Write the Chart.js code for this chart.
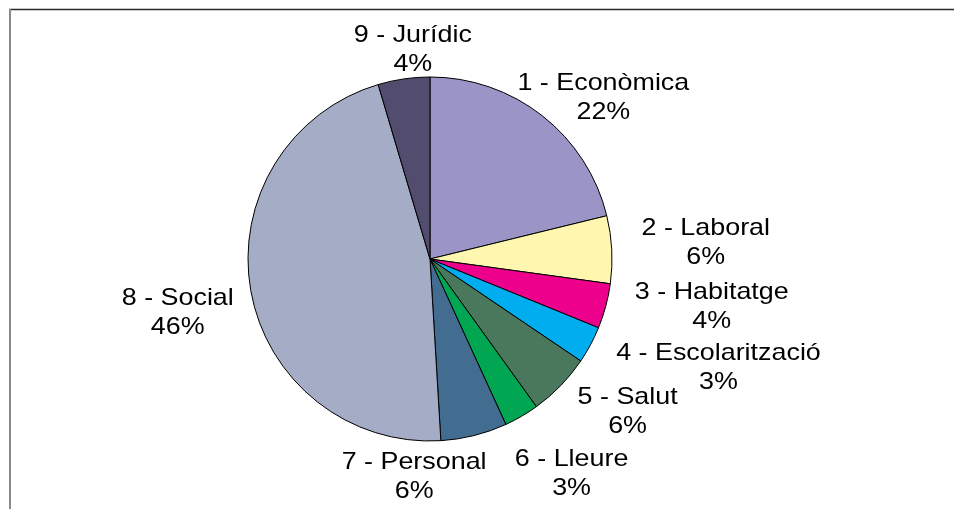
<!DOCTYPE html>
<html><head><meta charset="utf-8">
<script src="https://cdn.jsdelivr.net/npm/chart.js@4.4.0/dist/chart.umd.min.js"></script>
<style>html,body{margin:0;padding:0;background:#fff;}canvas{display:block}</style>
</head><body>
<canvas id="c" width="954" height="509"></canvas>
<script>
const categories = ['1 - Econòmica','2 - Laboral','3 - Habitatge','4 - Escolarització','5 - Salut','6 - Lleure','7 - Personal','8 - Social','9 - Jurídic'];
const shares = [21.2, 6.0, 4.0, 3.3, 5.6, 3.1, 5.9, 46.4, 4.6];
const percentLabels = [22, 6, 4, 3, 6, 3, 6, 46, 4];

const sliceColors = ['#9A94C7','#FFF7B0','#EC008C','#00AEEF','#4A785C','#00A651','#426C90','#A4ACC6','#524C6E'];
const labelNudge = [[61,-20],[94,-9],[106,-1],[128,21],[67,24],[50,56],[-60,39],[-73,20],[9,-31]];

const frame = {
  id: 'frame',
  beforeDraw(chart) {
    const ctx = chart.ctx;
    ctx.save();
    ctx.strokeStyle = '#2a2a2a'; ctx.lineWidth = 1.5;
    ctx.beginPath(); ctx.moveTo(9, 9.5); ctx.lineTo(954, 9.5); ctx.stroke();
    ctx.strokeStyle = '#8a8a8a'; ctx.lineWidth = 2;
    ctx.beginPath(); ctx.moveTo(10, 9); ctx.lineTo(10, 509); ctx.stroke();
    ctx.restore();
  }
};

const pieLabels = {
  id: 'pieLabels',
  afterDatasetsDraw(chart) {
    const ctx = chart.ctx;
    const meta = chart.getDatasetMeta(0);
    ctx.save();
    ctx.fillStyle = '#000';
    ctx.font = '24px "Liberation Sans", Arial, sans-serif';
    ctx.textAlign = 'center';
    ctx.textBaseline = 'alphabetic';
    meta.data.forEach((arc, i) => {
      const p = arc.getProps(['x','y','startAngle','endAngle','outerRadius'], true);
      const mid = (p.startAngle + p.endAngle) / 2;
      const ax = p.x + Math.cos(mid) * p.outerRadius;
      const ay = p.y + Math.sin(mid) * p.outerRadius;
      const cx = ax + labelNudge[i][0], cy = ay + labelNudge[i][1];
      const lines = [categories[i], percentLabels[i] + '%'];
      lines.forEach((t, k) => {
        ctx.save();
        ctx.translate(cx, cy + (k - 0.5) * 29 + 8.5);
        ctx.scale(1.12, 1);
        ctx.fillText(t, 0, 0);
        ctx.restore();
      });
    });
    ctx.restore();
  }
};

new Chart(document.getElementById('c'), {
  type: 'pie',
  data: {
    labels: categories,
    datasets: [{
      data: shares,
      backgroundColor: sliceColors,
      borderColor: '#000',
      borderWidth: 1,
      radius: 182
    }]
  },
  options: {
    responsive: false,
    animation: false,
    devicePixelRatio: 1,
    layout: { padding: { left: 0, right: 94, top: 9, bottom: 0 } },
    plugins: { legend: { display: false }, tooltip: { enabled: false } }
  },
  plugins: [frame, pieLabels]
});
</script>
</body></html>
